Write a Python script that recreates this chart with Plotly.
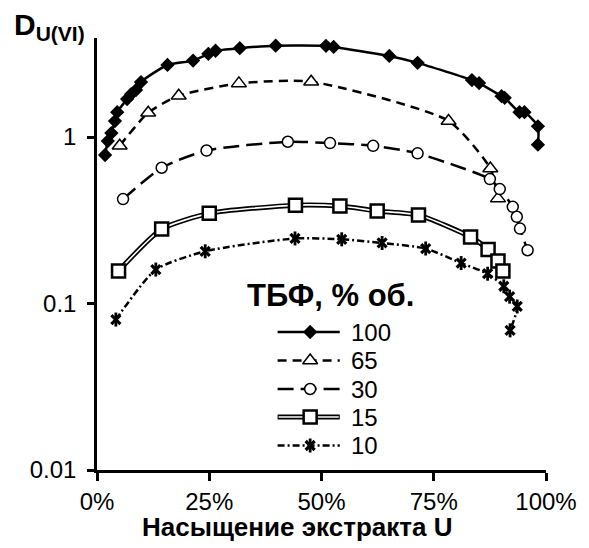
import plotly.graph_objects as go

# ---- data (x: saturation %, y: D_U(VI)) ----
x100 = [1.8, 2.4, 3.2, 4.0, 4.5, 6.7, 7.6, 8.7, 9.8, 15.7, 21.4, 24.8, 26.4, 31.8, 39.8,
        51.0, 52.7, 65.1, 71.4, 83.5, 85.1, 90.1, 90.8, 94.1, 95.2, 98.2, 98.2]
y100 = [0.78, 0.946, 1.057, 1.248, 1.41, 1.69, 1.81, 1.92, 2.14, 2.71, 2.88, 3.16, 3.30, 3.42, 3.54,
        3.53, 3.48, 3.07, 2.79, 2.20, 2.11, 1.76, 1.72, 1.41, 1.41, 1.16, 0.90]

x65 = [5.05, 11.4, 18.2, 31.6, 47.7, 78.3, 87.6, 89.3]
y65 = [0.887, 1.40, 1.77, 2.10, 2.15, 1.25, 0.648, 0.428]

x30 = [5.8, 14.4, 24.4, 42.5, 51.9, 61.5, 71.4, 87.5, 89.7, 92.6, 93.5, 94.2, 95.9]
y30 = [0.424, 0.654, 0.830, 0.937, 0.920, 0.886, 0.798, 0.559, 0.487, 0.381, 0.332, 0.282, 0.209]

x15 = [4.8, 14.4, 25.0, 44.2, 54.1, 62.4, 71.6, 83.2, 87.1, 89.3, 90.4]
y15 = [0.157, 0.280, 0.348, 0.390, 0.385, 0.360, 0.340, 0.251, 0.211, 0.180, 0.157]

x10 = [4.2, 13.1, 24.1, 44.1, 54.5, 63.5, 73.2, 81.1, 87.0, 90.6, 91.9, 93.6, 92.0]
y10 = [0.0801, 0.160, 0.206, 0.246, 0.243, 0.231, 0.214, 0.175, 0.151, 0.127, 0.110, 0.096, 0.069]

series_names = ["100", "65", "30", "15", "10"]
legend_title = "ТБФ, % об."
x_title = "Насыщение экстракта U"
x_ticks = [0, 25, 50, 75, 100]
x_ticklabels = ["0%", "25%", "50%", "75%", "100%"]
y_ticks = [0.01, 0.1, 1]
y_ticklabels = ["0.01", "0.1", "1"]

FONT = "Liberation Sans, Arial, sans-serif"
SM = 0.6

fig = go.Figure()

def line(x, y, width, dash="solid", color="black", xa="x", ya="y", shape="spline"):
    fig.add_trace(go.Scatter(x=x, y=y, mode="lines", xaxis=xa, yaxis=ya,
                             line=dict(color=color, width=width, dash=dash, shape=shape, smoothing=SM),
                             showlegend=False, hoverinfo="skip"))

def markers(x, y, symbol, size, fill, lw, xa="x", ya="y"):
    fig.add_trace(go.Scatter(x=x, y=y, mode="markers", xaxis=xa, yaxis=ya,
                             marker=dict(symbol=symbol, size=size, color=fill,
                                         line=dict(color="black", width=lw)),
                             showlegend=False, hoverinfo="skip"))

D65 = "9px,6px"
D30 = "16px,7px"
D10 = "7px,3px,2px,3px"

# series 100
line(x100, y100, 2.5)
markers(x100, y100, "diamond", 11, "black", 0)
# series 65
line(x65, y65, 2.5, D65)
markers(x65, y65, "triangle-up", 13, "white", 1.5)
# series 30
line(x30, y30, 2.5, D30)
markers(x30, y30, "circle", 11, "white", 1.5)
# series 15 (double line)
line(x15, y15, 5)
line(x15, y15, 1.6, color="white")
markers(x15, y15, "square", 13, "white", 2.5)
# series 10 (star marker)
line(x10, y10, 2.5, D10)
markers(x10, y10, "x-thin-open", 9, "black", 3.2)
markers(x10, y10, "line-ns-open", 10, "black", 2.8)

# ---- manual legend in a pixel-coordinate overlay ----
ly = [332, 360.5, 389, 417, 445.5]
lx0, lx1, lxm, ltx = 280, 343, 313, 352
line([lx0, lx1], [ly[0], ly[0]], 2.5, xa="x2", ya="y2", shape="linear")
markers([lxm], [ly[0]], "diamond", 11, "black", 0, "x2", "y2")
line([lx0, lx1], [ly[1], ly[1]], 2.5, D65, xa="x2", ya="y2", shape="linear")
markers([lxm], [ly[1]], "triangle-up", 13, "white", 1.5, "x2", "y2")
line([lx0, lx1], [ly[2], ly[2]], 2.5, D30, xa="x2", ya="y2", shape="linear")
markers([lxm], [ly[2]], "circle", 11, "white", 1.5, "x2", "y2")
line([lx0, lx1], [ly[3], ly[3]], 5, xa="x2", ya="y2", shape="linear")
line([lx0 + 1, lx1 - 1], [ly[3], ly[3]], 1.6, color="white", xa="x2", ya="y2", shape="linear")
markers([lxm], [ly[3]], "square", 13, "white", 2.5, "x2", "y2")
line([lx0, lx1], [ly[4], ly[4]], 2.5, D10, xa="x2", ya="y2", shape="linear")
markers([lxm], [ly[4]], "x-thin-open", 9, "black", 3.2, "x2", "y2")
markers([lxm], [ly[4]], "line-ns-open", 10, "black", 2.8, "x2", "y2")

annotations = []
for name, yy in zip(series_names, ly):
    annotations.append(dict(x=ltx, y=yy, xref="x2", yref="y2", text=name, showarrow=False,
                            xanchor="left", yanchor="middle", font=dict(size=24, color="black", family=FONT)))
annotations.append(dict(x=247, y=295, xref="x2", yref="y2", text="<b>" + legend_title + "</b>",
                        showarrow=False, xanchor="left", yanchor="middle",
                        font=dict(size=31, color="black", family=FONT)))
# plot-area px -> paper: x=(px-97)/455, y=(470-py)/432
annotations.append(dict(x=(300 - 97) / 455, y=(470 - 527) / 432, xref="paper", yref="paper",
                        text="<b>" + x_title + "</b>",
                        showarrow=False, xanchor="center", yanchor="middle",
                        font=dict(size=26, color="black", family=FONT)))
annotations.append(dict(x=(11 - 97) / 455, y=(470 - 6) / 432, xref="paper", yref="paper",
                        text="<b>D<sub>U(VI)</sub></b>",
                        showarrow=False, xanchor="left", yanchor="top",
                        font=dict(size=30, color="black", family=FONT)))

fig.update_layout(
    width=589, height=548,
    margin=dict(l=97, r=37, t=38, b=78),
    plot_bgcolor="white", paper_bgcolor="white",
    font=dict(family=FONT, size=24, color="black"),
    showlegend=False,
    annotations=annotations,
    xaxis=dict(range=[0, 100], tickvals=x_ticks, ticktext=x_ticklabels,
               showline=True, linecolor="black", linewidth=2.5,
               ticks="outside", ticklen=8, tickwidth=2.5, tickcolor="black",
               showgrid=False, zeroline=False, tickfont=dict(size=24)),
    yaxis=dict(type="log", range=[-2, 0.595], tickvals=y_ticks, ticktext=y_ticklabels,
               showline=True, linecolor="black", linewidth=2.5,
               ticks="outside", ticklen=7, tickwidth=2.5, tickcolor="black",
               ticklabelstandoff=6,
               showgrid=False, zeroline=False, tickfont=dict(size=24)),
    xaxis2=dict(range=[97, 552], overlaying="x", anchor="y2", visible=False, domain=[0, 1]),
    yaxis2=dict(range=[470, 38], overlaying="y", anchor="x2", visible=False),
)

fig.write_html("out.html")
